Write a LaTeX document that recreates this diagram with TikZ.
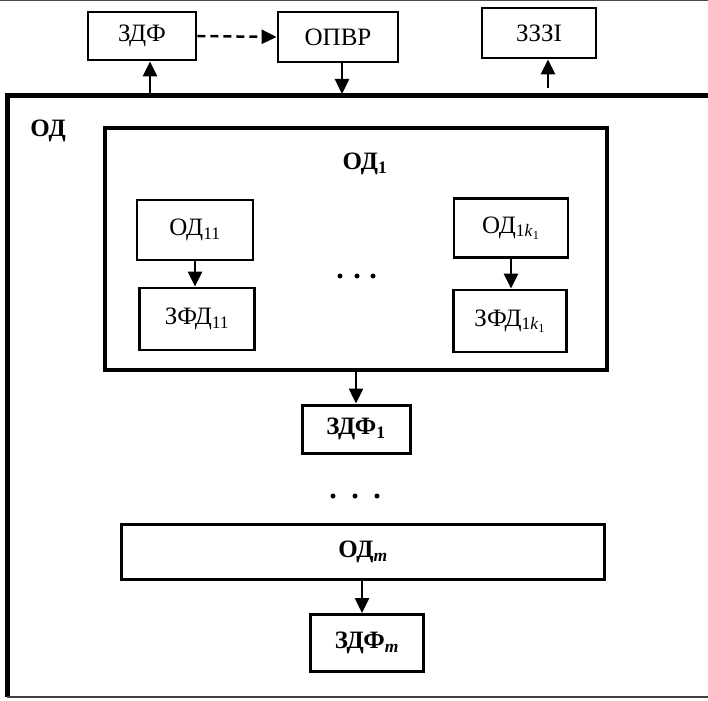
\documentclass[tikz,border=0pt]{standalone}
\usepackage{fontspec}
\setmainfont{Liberation Serif}
\usetikzlibrary{arrows.meta}
\tikzset{
  blk/.style={draw, line width=2.8pt, inner sep=0pt, font=\fontsize{25}{28}\selectfont},
  bblk/.style={blk, line width=3pt, font=\fontsize{25}{28}\selectfont\bfseries},
  arr/.style={line width=2.5pt, -{Triangle[length=15pt,width=14pt]}},
  dot/.style={fill=black}
}
\begin{document}
\begin{tikzpicture}[x=1pt,y=-1pt]
\useasboundingbox (0,0) rectangle (708,700);
% top frame line
\draw[line width=1.2pt, black!70] (0,0.6) -- (708,0.6);
% outer OD box (right edge beyond the picture)
\draw[line width=5pt] (708,96) -- (7,96) -- (7,697);
\draw[line width=2.5pt, black!75] (7,697) -- (708,697);
\node[font=\fontsize{25}{28}\selectfont\bfseries] (odlbl) at (48,131) {ОД};
% top row
\node[blk, minimum width=108pt, minimum height=48pt] (zdf) at (142,36) {ЗДФ};
\node[blk, minimum width=120pt, minimum height=50pt] (opvr) at (338,37) {ОПВР};
\node[blk, minimum width=114pt, minimum height=50pt] (zzzi) at (539,33) {ЗЗЗІ};
\coordinate (c1) at (150,94);
\coordinate (c2) at (342,94);
\coordinate (c3) at (548,88);
\draw[arr] (c1) -- (c1 |- zdf.south);
\draw[arr] (c2 |- opvr.south) -- (c2);
\draw[arr] (c3) -- (c3 |- zzzi.south);
\draw[arr, dash pattern=on 8pt off 5pt] (zdf.east) -- (opvr.west);
% OD1 block
\node[blk, line width=3.5pt, minimum width=502pt, minimum height=242pt] (od1) at (356,249) {};
\node[font=\fontsize{25}{28}\selectfont\bfseries] (od1lbl) at (365,164) {ОД\textsubscript{1}};
\node[blk, minimum width=116pt, minimum height=60pt] (od11) at (195,230) {ОД\textsubscript{11}};
\node[blk, minimum width=115pt, minimum height=62pt] (zfd11) at (197,319) {ЗФД\textsubscript{11}};
\node[blk, minimum width=114pt, minimum height=59pt] (od1k) at (511,228) {ОД\textsubscript{1\textit{k}\textsubscript{1}}};
\node[blk, minimum width=113pt, minimum height=62pt] (zfd1k) at (510,321) {ЗФД\textsubscript{1\textit{k}\textsubscript{1}}};
\draw[arr] (od11.south) -- (od11.south |- zfd11.north);
\draw[arr] (od1k.south) -- (od1k.south |- zfd1k.north);
\foreach \x in {340,357,373} \fill[dot] (\x,276) circle (2.5pt);
% ZDF1
\node[bblk, minimum width=108pt, minimum height=48pt] (zdf1) at (356,429) {ЗДФ\textsubscript{1}};
\draw[arr] (od1.south -| zdf1.north) -- (zdf1.north);
\foreach \x in {333,355,377} \fill[dot] (\x,496) circle (2.5pt);
% ODm
\node[bblk, line width=3.5pt, minimum width=483pt, minimum height=55pt] (odm) at (363,552) {ОД\textsubscript{\textit{m}}};
\node[bblk, minimum width=113pt, minimum height=57pt] (zdfm) at (367,643) {ЗДФ\textsubscript{\textit{m}}};
\draw[arr] (odm.south -| 362,0) -- (zdfm.north -| 362,0);
\end{tikzpicture}
\end{document}
